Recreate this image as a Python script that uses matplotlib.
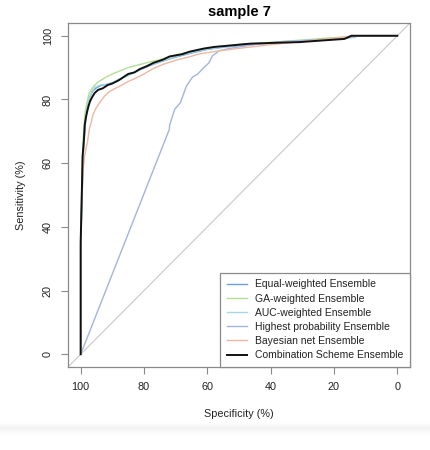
import numpy as np
import matplotlib
matplotlib.use("Agg")
import matplotlib.pyplot as plt

# (specificity, sensitivity) points, in %
equal_spec = [100, 100, 99.5, 99.2, 98.8, 98.4, 97.8, 97.2, 96.3, 95.2, 93.8, 92, 90, 88, 85, 82, 79, 76, 72, 68, 64, 60, 55, 50, 44, 36, 28, 20, 14, 12, 0]
equal_sens = [0, 34, 51, 63, 69, 74, 78, 80.5, 82.5, 83.5, 84.3, 84.7, 85.2, 86.2, 87.6, 89, 90.3, 91.4, 92.7, 93.8, 94.8, 95.7, 96.4, 96.9, 97.4, 97.9, 98.4, 98.9, 99.5, 100, 100]

ga_spec = [100, 100, 99.6, 99.3, 99, 98.6, 98, 97.3, 96, 94.5, 92, 90, 88, 85, 82, 78, 75, 72, 68, 64, 60, 55, 50, 42, 35, 28, 22, 15, 12, 0]
ga_sens = [0, 38, 55, 65, 71, 76, 79, 82, 84, 85.5, 87, 88, 88.8, 90, 90.8, 91.8, 92.5, 93.4, 94.4, 95.2, 96, 96.8, 97.3, 97.8, 98.3, 98.8, 99.3, 99.7, 100, 100]

auc_spec = [100, 100, 99.5, 99.2, 98.8, 98.5, 98, 97.3, 96.5, 95.5, 94, 92, 90, 88, 85, 82, 79, 76, 72, 68, 64, 60, 55, 50, 44, 36, 28, 20, 14, 12, 0]
auc_sens = [0, 33, 50, 62, 68, 73, 77, 80, 82.5, 83.8, 84.5, 84.8, 85.3, 86.3, 87.5, 89, 90.5, 91.5, 92.8, 94, 95, 95.8, 96.5, 97, 97.5, 98, 98.5, 99, 99.6, 100, 100]

high_spec = [100, 72, 71.9, 70.3, 68.5, 66.6, 64.7, 63, 61.5, 59.5, 58.4, 56.2, 53, 49.8, 43.5, 37.2, 30, 20, 11, 0]
high_sens = [0, 70.6, 72, 76.9, 79, 84.2, 87, 88, 89.6, 91.5, 93.7, 95.3, 96, 96.5, 97.5, 98.1, 98.5, 99, 100, 100]

bayes_spec = [100, 100, 99.5, 99.2, 98.8, 98.2, 97.8, 97.2, 96.6, 96.2, 95.3, 94, 92.5, 90.9, 89, 87, 85.5, 83, 80, 77.3, 74, 70, 66, 62.5, 58, 52, 46, 40, 32, 24, 18, 14, 0]
bayes_sens = [0, 40, 53, 58, 62, 65, 67, 71, 73, 75, 77, 79, 81, 82.5, 83.5, 84.5, 85.4, 86.5, 88, 89.6, 91, 92.3, 93.3, 94.3, 95, 95.8, 96.5, 97.2, 98, 98.8, 99.4, 100, 100]

comb_spec = [100, 100, 99.6, 99.4, 99, 98.7, 98.4, 98, 97.5, 97, 96.5, 95.6, 94.5, 93, 91.5, 90, 88, 86.5, 85, 83, 81.4, 79, 77, 74, 71.9, 68, 65.6, 61, 57.7, 52, 46.7, 38, 30.9, 24, 16.7, 14.5, 0]
comb_sens = [0, 35, 52, 62, 67, 72, 74, 76, 78, 79.5, 80.5, 82, 83, 83.5, 84.5, 85, 86, 87, 88, 88.5, 89.5, 90.5, 91.5, 92.5, 93.5, 94.2, 95, 96, 96.5, 97, 97.5, 97.8, 98, 98.5, 99, 100, 100]

labels = ["Equal-weighted Ensemble", "GA-weighted Ensemble", "AUC-weighted Ensemble",
          "Highest probability Ensemble", "Bayesian net Ensemble", "Combination Scheme Ensemble"]
colors = ["#6f9fd6", "#b3de94", "#a6d8e4", "#a3b4e2", "#eeb8a2", "#111111"]

plt.rcParams["font.family"] = ["Liberation Sans", "DejaVu Sans"]

fig = plt.figure(figsize=(4.3, 4.5), dpi=100)

# faint grey band at the bottom of the reference image
bg = fig.add_axes([0, 1 - 436 / 450, 1, 14 / 450])
grad = np.concatenate([np.linspace(1.0, 0.955, 6), np.linspace(0.955, 1.0, 8)])[:, None]
bg.imshow(grad, cmap="gray", vmin=0, vmax=1, aspect="auto", extent=[0, 1, 0, 1])
bg.set_axis_off()

ax = fig.add_axes([68 / 430, 1 - 367 / 450, 342 / 430, 344 / 450])

ax.plot([104, -4], [-4, 104], color="#c8c8c8", lw=0.8, zorder=1)

series = [(equal_spec, equal_sens), (ga_spec, ga_sens), (auc_spec, auc_sens),
          (high_spec, high_sens), (bayes_spec, bayes_sens), (comb_spec, comb_sens)]
for i, ((sp, se), lab, col) in enumerate(zip(series, labels, colors)):
    lw = 1.4 if i == 5 else 1.0
    ax.plot(sp, se, color=col, lw=lw, zorder=2 + i, label=lab)

ax.set_xlim(104, -4)
ax.set_ylim(-4, 104)
ax.set_xticks([100, 80, 60, 40, 20, 0])
ax.set_yticks([0, 20, 40, 60, 80, 100])
for s in ax.spines.values():
    s.set_color("#8a8a8a")
    s.set_linewidth(0.9)
ax.tick_params(direction="out", length=5, width=0.8, color="#8a8a8a",
               labelsize=7.8, labelcolor="#222222", pad=6)
for t in ax.get_yticklabels():
    t.set_rotation(90)
    t.set_va("center")

ax.set_xlabel("Specificity (%)", fontsize=7.8, color="#222222", labelpad=12)
ax.set_ylabel("Sensitivity (%)", fontsize=7.8, color="#222222", labelpad=12)
ax.set_title("sample 7", fontsize=10.5, fontweight="bold", pad=5)

leg = ax.legend(loc="lower right", bbox_to_anchor=(1, 0), borderaxespad=0,
                fontsize=7.5, frameon=True, fancybox=False, framealpha=1,
                edgecolor="#8a8a8a", handlelength=1.9, handletextpad=0.75,
                labelspacing=0.4, borderpad=0.65)
leg.get_frame().set_linewidth(0.9)
for t in leg.get_texts():
    t.set_color("#222222")

fig.savefig("out.png", dpi=100)
